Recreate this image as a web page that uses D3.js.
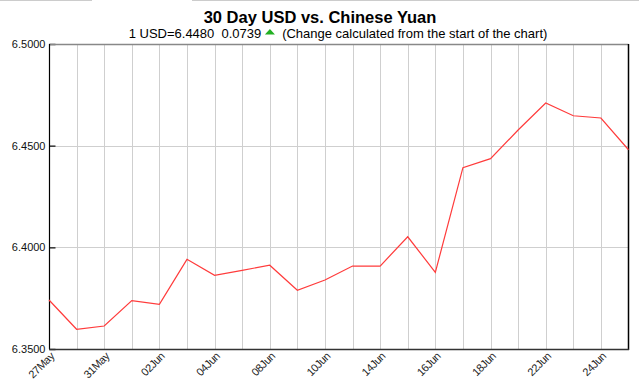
<!DOCTYPE html>
<html><head><meta charset="utf-8">
<script src="https://cdn.jsdelivr.net/npm/d3@7/dist/d3.min.js"></script>
<style>body{margin:0;background:#fff;} svg{display:block;font-family:"Liberation Sans",Arial,sans-serif;}</style>
</head><body>
<svg id="c" width="639" height="381"></svg>
<script>
const dates = ["27May","28May","31May","01Jun","02Jun","03Jun","04Jun","07Jun","08Jun","09Jun","10Jun","11Jun","14Jun","15Jun","16Jun","17Jun","18Jun","21Jun","22Jun","23Jun","24Jun","25Jun"];
const rates = [6.3741,6.3597,6.3613,6.3738,6.3720,6.3941,6.3862,6.3887,6.3912,6.3789,6.3839,6.3908,6.3908,6.4052,6.3877,6.4392,6.4436,6.4577,6.4710,6.4647,6.4636,6.4480];
const yTicks = [6.35,6.40,6.45,6.50];
const shownLabels = ["27May","31May","02Jun","04Jun","08Jun","10Jun","14Jun","16Jun","18Jun","22Jun","24Jun"];
const titleText = "30 Day USD vs. Chinese Yuan";
const subLeft = "1 USD=6.4480  0.0739";
const subRight = "(Change calculated from the start of the chart)";

const svg = d3.select("#c");
const L=49, R=628.5, T=44, B=349;
const x = d3.scalePoint().domain(dates).range([L,R]);
const y = d3.scaleLinear().domain([6.35,6.50]).range([B,T]);

// top decorative line
svg.append("line").attr("x1",0).attr("x2",92).attr("y1",0.5).attr("y2",0.5).attr("stroke","#ccc");
svg.append("line").attr("x1",192).attr("x2",639).attr("y1",0.5).attr("y2",0.5).attr("stroke","#ccc");

// grid
svg.append("g").selectAll("line").data(dates.slice(1,-1)).join("line")
  .attr("x1",d=>Math.round(x(d))+0.5).attr("x2",d=>Math.round(x(d))+0.5)
  .attr("y1",T).attr("y2",B).attr("stroke","#cfcfcf");
svg.append("g").selectAll("line").data(yTicks.slice(1,-1)).join("line")
  .attr("x1",L).attr("x2",R).attr("y1",d=>Math.round(y(d))+0.5).attr("y2",d=>Math.round(y(d))+0.5)
  .attr("stroke","#cfcfcf");

// y axis
const yAxis = d3.axisLeft(y).tickValues(yTicks).tickFormat(d=>d.toFixed(4)).tickSize(-6).tickPadding(4);
const gy = svg.append("g").attr("transform",`translate(${L+0.5},0)`).call(yAxis);
gy.select(".domain").remove();
gy.selectAll(".tick line").attr("stroke","#333").attr("stroke-width",1.5);
gy.selectAll(".tick text").attr("font-size",11).attr("fill","#111").attr("font-family","Liberation Sans, Arial, sans-serif");

// frame
svg.append("line").attr("x1",L).attr("x2",R).attr("y1",T+0.5).attr("y2",T+0.5).attr("stroke","#888").attr("stroke-width",1.5);
svg.append("line").attr("x1",L+0.5).attr("x2",L+0.5).attr("y1",T).attr("y2",B).attr("stroke","#000").attr("stroke-width",1.2);
svg.append("line").attr("x1",R).attr("x2",R).attr("y1",T).attr("y2",B+1).attr("stroke","#000").attr("stroke-width",1.5);
svg.append("line").attr("x1",L).attr("x2",R+0.5).attr("y1",B+0.5).attr("y2",B+0.5).attr("stroke","#333").attr("stroke-width",1.5);

// x labels
svg.append("g").selectAll("text").data(shownLabels).join("text")
  .attr("transform",d=>`translate(${x(d)+6},${B+8}) rotate(-45)`)
  .attr("text-anchor","end").attr("font-size",11).attr("letter-spacing",-0.4).attr("fill","#222").text(d=>d);

// line
const line = d3.line().x((d,i)=>x(dates[i])).y(d=>y(d));
svg.append("path").datum(rates).attr("d",line).attr("fill","none").attr("stroke","#ff3b3b").attr("stroke-width",1.2);

// titles
svg.append("text").attr("x",320).attr("y",23).attr("text-anchor","middle").attr("font-size",16.5).attr("font-weight","bold").attr("fill","#000").text(titleText);

const fs = 13;
const measure = t => { const n = svg.append("text").attr("font-size",fs).attr("xml:space","preserve").text(t); const w = n.node().getComputedTextLength(); n.remove(); return w; };
const wl = measure(subLeft + " ");
const triW = 10;
const wr = measure("  " + subRight);
const total = wl + triW + wr;
const sx = 338 - total/2;
svg.append("text").attr("x",sx).attr("y",38).attr("font-size",fs).attr("xml:space","preserve").attr("fill","#000").text(subLeft+" ");
svg.append("path").attr("d",`M${sx+wl},34.5 L${sx+wl+triW},34.5 L${sx+wl+triW/2},29 Z`).attr("fill","#22b022");
svg.append("text").attr("x",sx+wl+triW).attr("y",38).attr("font-size",fs).attr("xml:space","preserve").attr("fill","#000").text("  "+subRight);
</script>
</body></html>
